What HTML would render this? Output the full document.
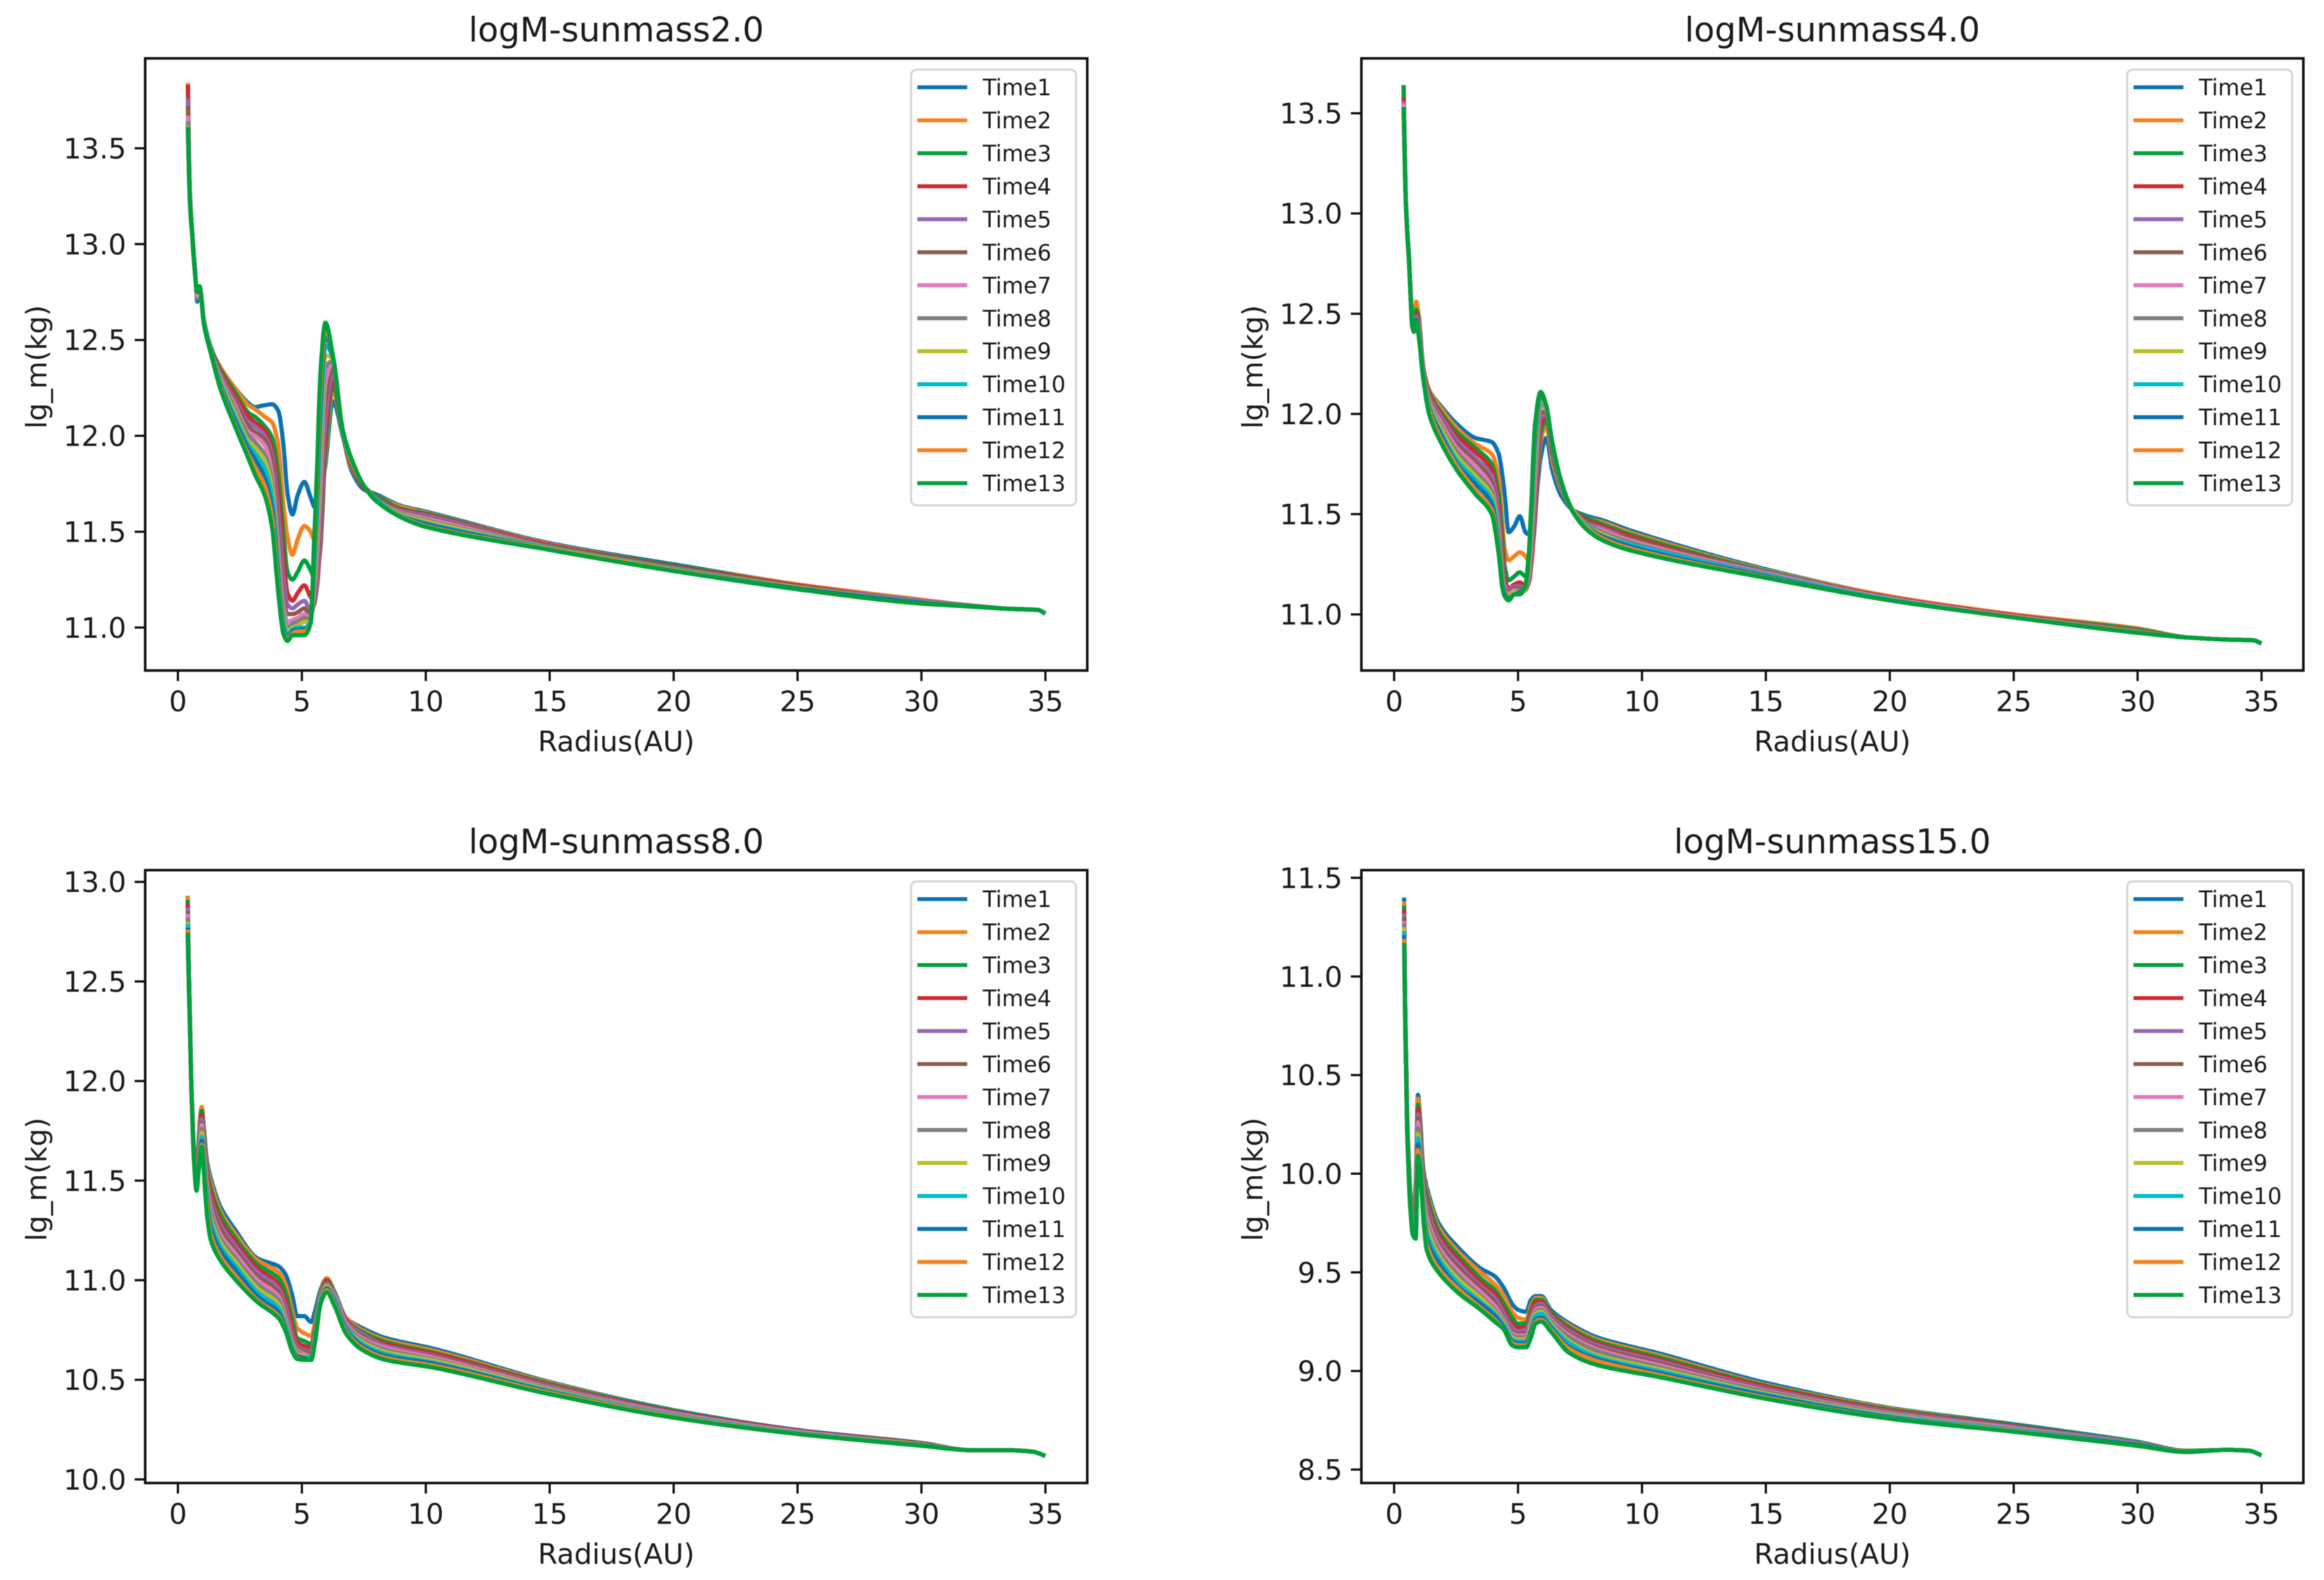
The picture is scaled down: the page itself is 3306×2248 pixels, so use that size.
<!DOCTYPE html>
<html lang="en">
<head>
<meta charset="utf-8">
<title>logM-sunmass panels</title>
<style>
html,body{margin:0;padding:0;background:#fff;}
body{width:3306px;height:2248px;overflow:hidden;}
svg{display:block;filter:blur(0.6px);}
text{font-family:"DejaVu Sans","Liberation Sans",sans-serif;fill:#1a1a1a;}
.title{font-size:48px;text-anchor:middle;}
.axis-label{font-size:40.2px;text-anchor:middle;}
</style>
</head>
<body>
<svg id="figure" xmlns="http://www.w3.org/2000/svg" width="3306" height="2248" viewBox="0 0 3306 2248">
  <rect x="0" y="0" width="3306" height="2248" fill="#ffffff"/>
  <g id="panel1">
    <text class="title" x="876.6" y="59">logM-sunmass2.0</text>
    <text class="axis-label" x="876.6" y="1069">Radius(AU)</text>
    <text class="axis-label" x="66" y="522" transform="rotate(-90 66 522)">lg_m(kg)</text>
  </g>
  <g id="panel2">
    <text class="title" x="2606.6" y="59">logM-sunmass4.0</text>
    <text class="axis-label" x="2606.6" y="1069">Radius(AU)</text>
    <text class="axis-label" x="1796" y="522" transform="rotate(-90 1796 522)">lg_m(kg)</text>
  </g>
  <g id="panel3">
    <text class="title" x="876.6" y="1214">logM-sunmass8.0</text>
    <text class="axis-label" x="876.6" y="2225">Radius(AU)</text>
    <text class="axis-label" x="66" y="1678" transform="rotate(-90 66 1678)">lg_m(kg)</text>
  </g>
  <g id="panel4">
    <text class="title" x="2606.6" y="1214">logM-sunmass15.0</text>
    <text class="axis-label" x="2606.6" y="2225">Radius(AU)</text>
    <text class="axis-label" x="1796" y="1678" transform="rotate(-90 1796 1678)">lg_m(kg)</text>
  </g>
</svg>
<script>
const seriesNames = ['Time1','Time2','Time3','Time4','Time5','Time6','Time7','Time8','Time9','Time10','Time11','Time12','Time13'];
const xTickValues = [0,5,10,15,20,25,30,35];
const xTickLabels = ['0','5','10','15','20','25','30','35'];
const yTicksA = [11.0,11.5,12.0,12.5,13.0,13.5];
const yTicksB = [11.0,11.5,12.0,12.5,13.0,13.5];
const yTicksC = [10.0,10.5,11.0,11.5,12.0,12.5,13.0];
const yTicksD = [8.5,9.0,9.5,10.0,10.5,11.0,11.5];

/* Panel 1: logM-sunmass2.0 */
const radiusA = [0.40,0.48,0.57,0.70,0.78,0.87,1.05,1.33,1.70,2.30,2.85,3.10,3.50,3.80,4.05,4.25,4.42,4.62,4.83,5.10,5.35,5.50,5.60,5.75,5.95,6.25,6.65,7.00,7.50,8.00,9.00,10,15,20,25,30,32,33.5,34.7,35];
const a1 = [13.84,13.28,13.08,12.84,12.70,12.78,12.60,12.46,12.36,12.25,12.17,12.15,12.16,12.165,12.13,11.96,11.70,11.59,11.69,11.76,11.68,11.63,11.62,11.70,11.85,12.18,12.00,11.82,11.72,11.695,11.635,11.605,11.44,11.33,11.225,11.145,11.115,11.098,11.092,11.073];
const a2 = [13.84,13.28,13.08,12.84,12.71,12.78,12.60,12.46,12.36,12.25,12.16,12.14,12.10,12.07,11.95,11.65,11.47,11.38,11.46,11.53,11.50,11.46,11.46,11.55,11.88,12.24,12.00,11.84,11.73,11.69,11.63,11.60,11.435,11.325,11.225,11.145,11.115,11.098,11.092,11.073];
const a3 = [13.83,13.27,13.08,12.84,12.71,12.78,12.60,12.46,12.35,12.23,12.12,12.10,12.05,11.99,11.80,11.50,11.29,11.25,11.29,11.35,11.30,11.26,11.28,11.42,11.92,12.27,12.00,11.85,11.73,11.69,11.62,11.595,11.43,11.325,11.22,11.14,11.115,11.098,11.092,11.073];
const a4 = [13.83,13.27,13.07,12.84,12.72,12.78,12.60,12.45,12.34,12.21,12.10,12.07,12.03,11.93,11.70,11.38,11.18,11.14,11.18,11.22,11.16,11.14,11.20,11.45,12.00,12.30,12.01,11.85,11.73,11.68,11.615,11.59,11.43,11.32,11.22,11.14,11.115,11.098,11.092,11.073];
const a5 = [13.76,13.26,13.07,12.84,12.72,12.78,12.59,12.45,12.33,12.19,12.07,12.05,12.00,11.90,11.60,11.27,11.12,11.10,11.12,11.14,11.09,11.12,11.20,11.50,12.08,12.33,12.01,11.86,11.74,11.68,11.61,11.585,11.425,11.315,11.215,11.14,11.115,11.098,11.092,11.073];
const a6 = [13.72,13.26,13.07,12.84,12.73,12.78,12.59,12.45,12.32,12.18,12.05,12.02,11.98,11.87,11.50,11.18,11.07,11.07,11.08,11.10,11.06,11.14,11.26,11.60,12.18,12.36,12.01,11.86,11.74,11.68,11.605,11.575,11.425,11.315,11.215,11.135,11.115,11.098,11.092,11.073];
const a7 = [13.67,13.25,13.06,12.84,12.73,12.78,12.59,12.44,12.31,12.16,12.02,12.00,11.95,11.80,11.42,11.12,11.03,11.04,11.05,11.07,11.05,11.18,11.34,11.72,12.28,12.38,12.02,11.87,11.74,11.67,11.60,11.57,11.42,11.31,11.21,11.135,11.115,11.098,11.092,11.073];
const a8 = [13.64,13.25,13.06,12.83,12.74,12.78,12.59,12.44,12.30,12.14,12.00,11.97,11.90,11.76,11.37,11.08,11.00,11.02,11.03,11.05,11.04,11.22,11.42,11.85,12.36,12.39,12.02,11.87,11.74,11.67,11.595,11.56,11.42,11.31,11.21,11.135,11.115,11.098,11.092,11.073];
const a9 = [13.63,13.24,13.06,12.83,12.74,12.78,12.59,12.44,12.29,12.12,11.97,11.94,11.87,11.72,11.33,11.05,10.98,11.00,11.01,11.03,11.03,11.26,11.48,11.95,12.42,12.40,12.02,11.87,11.74,11.67,11.59,11.555,11.415,11.305,11.21,11.13,11.11,11.098,11.092,11.073];
const a10 = [13.63,13.24,13.06,12.83,12.75,12.78,12.59,12.44,12.28,12.10,11.95,11.91,11.83,11.68,11.30,11.03,10.96,10.99,11.00,11.00,11.03,11.30,11.56,12.05,12.47,12.41,12.02,11.88,11.74,11.67,11.585,11.545,11.415,11.305,11.205,11.13,11.11,11.098,11.092,11.073];
const a11 = [13.62,13.23,13.05,12.83,12.75,12.78,12.58,12.43,12.27,12.08,11.93,11.88,11.78,11.62,11.26,11.00,10.95,10.98,10.99,10.99,11.02,11.36,11.64,12.15,12.52,12.41,12.03,11.88,11.74,11.66,11.58,11.54,11.41,11.30,11.205,11.13,11.11,11.098,11.092,11.073];
const a12 = [13.62,13.23,13.05,12.83,12.76,12.78,12.58,12.43,12.26,12.06,11.90,11.84,11.74,11.57,11.22,10.98,10.94,10.97,10.98,10.98,11.02,11.42,11.72,12.25,12.56,12.42,12.03,11.88,11.74,11.66,11.58,11.53,11.41,11.30,11.20,11.125,11.11,11.098,11.092,11.073];
const a13 = [13.61,13.22,13.05,12.83,12.76,12.78,12.58,12.43,12.25,12.05,11.88,11.80,11.69,11.52,11.18,10.97,10.93,10.96,10.96,10.96,11.02,11.47,11.79,12.33,12.59,12.42,12.03,11.88,11.74,11.66,11.575,11.525,11.405,11.295,11.20,11.125,11.11,11.098,11.092,11.073];

/* Panel 2: logM-sunmass4.0 */
const radiusB = [0.38,0.47,0.61,0.73,0.80,0.89,0.98,1.17,1.41,1.88,2.53,3.28,3.94,4.22,4.36,4.46,4.62,4.85,5.07,5.30,5.42,5.53,5.68,5.91,6.14,6.38,6.75,7.22,7.80,8.40,9.50,15,20,25,30,32,33.5,34.7,35];
const b1 = [13.64,13.08,12.76,12.47,12.41,12.53,12.50,12.24,12.12,12.04,11.95,11.88,11.86,11.80,11.70,11.60,11.41,11.44,11.49,11.41,11.40,11.44,11.52,11.78,11.88,11.72,11.59,11.52,11.49,11.47,11.42,11.225,11.09,11.00,10.93,10.885,10.875,10.87,10.855];
const b2 = [13.64,13.08,12.76,12.47,12.41,12.56,12.50,12.24,12.12,12.03,11.93,11.85,11.80,11.68,11.47,11.33,11.27,11.29,11.31,11.29,11.27,11.30,11.48,11.86,11.94,11.77,11.62,11.52,11.48,11.46,11.41,11.22,11.09,11.00,10.93,10.885,10.875,10.87,10.855];
const b3 = [13.64,13.08,12.76,12.47,12.41,12.52,12.48,12.23,12.11,12.01,11.91,11.83,11.75,11.60,11.40,11.24,11.17,11.19,11.21,11.19,11.19,11.26,11.46,11.90,11.97,11.80,11.63,11.52,11.48,11.45,11.40,11.215,11.085,10.995,10.925,10.885,10.875,10.87,10.855];
const b4 = [13.58,13.07,12.75,12.46,12.41,12.50,12.47,12.23,12.10,12.00,11.89,11.81,11.72,11.54,11.33,11.18,11.13,11.15,11.16,11.14,11.15,11.24,11.48,11.94,11.99,11.81,11.64,11.52,11.47,11.44,11.39,11.21,11.085,10.995,10.92,10.885,10.875,10.87,10.855];
const b5 = [13.56,13.07,12.75,12.46,12.41,12.49,12.46,12.22,12.09,11.99,11.87,11.78,11.69,11.50,11.27,11.15,11.12,11.14,11.14,11.13,11.15,11.26,11.54,11.98,12.00,11.82,11.64,11.52,11.46,11.43,11.38,11.21,11.08,10.99,10.92,10.885,10.875,10.87,10.855];
const b6 = [13.55,13.07,12.75,12.46,12.41,12.49,12.45,12.21,12.08,11.97,11.85,11.76,11.66,11.46,11.23,11.13,11.11,11.13,11.13,11.12,11.16,11.30,11.60,12.01,12.01,11.83,11.65,11.52,11.46,11.42,11.38,11.205,11.08,10.99,10.92,10.885,10.875,10.87,10.855];
const b7 = [13.55,13.06,12.74,12.45,12.41,12.48,12.44,12.21,12.07,11.96,11.83,11.74,11.63,11.42,11.20,11.12,11.10,11.12,11.12,11.12,11.18,11.34,11.66,12.04,12.02,11.84,11.65,11.52,11.45,11.42,11.37,11.205,11.08,10.99,10.915,10.885,10.875,10.87,10.855];
const b8 = [13.54,13.06,12.74,12.45,12.41,12.48,12.43,12.20,12.06,11.94,11.81,11.71,11.61,11.40,11.18,11.11,11.09,11.11,11.12,11.12,11.20,11.38,11.72,12.06,12.03,11.84,11.65,11.52,11.45,11.41,11.36,11.20,11.075,10.985,10.915,10.885,10.875,10.87,10.855];
const b9 = [13.54,13.06,12.74,12.45,12.41,12.47,12.43,12.20,12.05,11.93,11.79,11.69,11.59,11.38,11.17,11.10,11.09,11.11,11.11,11.12,11.22,11.42,11.78,12.08,12.03,11.85,11.66,11.52,11.44,11.40,11.35,11.195,11.075,10.985,10.91,10.885,10.875,10.87,10.855];
const b10 = [13.53,13.06,12.74,12.45,12.41,12.47,12.42,12.19,12.04,11.91,11.77,11.67,11.57,11.36,11.16,11.10,11.08,11.10,11.11,11.13,11.24,11.46,11.83,12.09,12.04,11.85,11.66,11.51,11.44,11.39,11.35,11.195,11.075,10.985,10.91,10.885,10.875,10.87,10.855];
const b11 = [13.53,13.05,12.73,12.44,12.41,12.47,12.42,12.19,12.03,11.90,11.75,11.65,11.55,11.34,11.15,11.10,11.08,11.10,11.11,11.13,11.25,11.49,11.87,12.10,12.04,11.85,11.66,11.51,11.43,11.39,11.34,11.19,11.07,10.985,10.91,10.885,10.875,10.87,10.855];
const b12 = [13.52,13.05,12.73,12.44,12.41,12.46,12.41,12.18,12.02,11.88,11.74,11.62,11.52,11.32,11.14,11.09,11.07,11.10,11.10,11.14,11.26,11.52,11.91,12.11,12.04,11.86,11.66,11.51,11.43,11.38,11.33,11.185,11.07,10.985,10.91,10.885,10.875,10.87,10.855];
const b13 = [13.52,13.05,12.73,12.44,12.41,12.46,12.40,12.18,12.00,11.86,11.72,11.60,11.50,11.30,11.14,11.09,11.07,11.10,11.10,11.15,11.28,11.54,11.94,12.11,12.04,11.86,11.66,11.51,11.42,11.37,11.32,11.182,11.07,10.985,10.908,10.885,10.875,10.87,10.855];

/* Panel 3: logM-sunmass8.0 */
const radiusC = [0.39,0.44,0.54,0.66,0.75,0.85,0.96,1.05,1.17,1.33,1.71,2.27,3.21,4.06,4.34,4.62,4.81,5.09,5.38,5.52,5.75,6.00,6.32,6.79,7.44,8.38,10.36,15,20,25,30,32,33.5,34.5,35];
const c1 = [12.93,12.60,12.00,11.62,11.48,11.74,11.87,11.76,11.60,11.51,11.37,11.26,11.11,11.07,11.03,10.92,10.82,10.82,10.79,10.84,10.95,11.01,10.94,10.81,10.76,10.71,10.655,10.489,10.348,10.248,10.183,10.147,10.147,10.139,10.118];
const c2 = [12.93,12.59,12.00,11.62,11.48,11.72,11.87,11.75,11.58,11.49,11.35,11.24,11.10,11.04,10.98,10.84,10.76,10.735,10.72,10.78,10.93,11.01,10.94,10.81,10.75,10.70,10.645,10.485,10.345,10.245,10.18,10.147,10.147,10.139,10.118];
const c3 = [12.91,12.58,11.99,11.61,11.47,11.70,11.85,11.73,11.56,11.46,11.33,11.22,11.08,11.01,10.94,10.80,10.71,10.695,10.68,10.75,10.92,11.00,10.94,10.80,10.74,10.69,10.635,10.48,10.345,10.245,10.18,10.147,10.147,10.139,10.118];
const c4 = [12.89,12.57,11.99,11.61,11.47,11.68,11.83,11.71,11.54,11.44,11.30,11.20,11.06,10.98,10.90,10.76,10.69,10.67,10.66,10.73,10.91,11.00,10.93,10.80,10.73,10.68,10.63,10.475,10.34,10.245,10.18,10.147,10.147,10.139,10.118];
const c5 = [12.87,12.56,11.99,11.60,11.47,11.66,11.81,11.69,11.52,11.41,11.28,11.18,11.04,10.96,10.87,10.73,10.67,10.65,10.64,10.72,10.91,10.99,10.93,10.79,10.73,10.67,10.62,10.47,10.335,10.24,10.178,10.147,10.147,10.139,10.118];
const c6 = [12.85,12.55,11.98,11.60,11.46,11.64,11.79,11.67,11.50,11.39,11.26,11.16,11.02,10.94,10.84,10.71,10.66,10.64,10.63,10.71,10.90,10.99,10.92,10.78,10.72,10.66,10.615,10.465,10.33,10.24,10.178,10.147,10.147,10.139,10.118];
const c7 = [12.84,12.54,11.98,11.59,11.46,11.62,11.78,11.65,11.48,11.36,11.23,11.14,11.00,10.92,10.82,10.69,10.65,10.63,10.62,10.71,10.90,10.98,10.92,10.78,10.71,10.66,10.61,10.46,10.33,10.24,10.175,10.147,10.147,10.139,10.118];
const c8 = [12.82,12.53,11.98,11.59,11.46,11.60,11.76,11.63,11.46,11.34,11.21,11.12,10.98,10.90,10.80,10.68,10.64,10.62,10.62,10.70,10.89,10.98,10.91,10.77,10.70,10.65,10.60,10.455,10.325,10.235,10.175,10.147,10.147,10.139,10.118];
const c9 = [12.80,12.52,11.98,11.58,11.46,11.59,11.74,11.61,11.44,11.31,11.19,11.10,10.96,10.88,10.78,10.67,10.63,10.62,10.61,10.70,10.89,10.97,10.90,10.76,10.69,10.64,10.595,10.45,10.32,10.235,10.175,10.147,10.147,10.139,10.118];
const c10 = [12.79,12.51,11.97,11.58,11.46,11.58,11.72,11.59,11.42,11.29,11.17,11.08,10.94,10.86,10.77,10.66,10.62,10.61,10.61,10.69,10.89,10.96,10.90,10.76,10.68,10.63,10.585,10.445,10.32,10.235,10.172,10.147,10.147,10.139,10.118];
const c11 = [12.77,12.50,11.97,11.58,11.45,11.58,11.70,11.57,11.40,11.26,11.15,11.06,10.92,10.84,10.76,10.65,10.62,10.61,10.60,10.69,10.88,10.96,10.89,10.75,10.67,10.62,10.58,10.44,10.315,10.23,10.172,10.147,10.147,10.139,10.118];
const c12 = [12.76,12.49,11.97,11.57,11.45,11.57,11.68,11.55,11.37,11.23,11.12,11.03,10.90,10.82,10.75,10.645,10.61,10.60,10.60,10.68,10.88,10.95,10.88,10.74,10.66,10.61,10.57,10.435,10.315,10.23,10.17,10.147,10.147,10.139,10.118];
const c13 = [12.745,12.48,11.97,11.57,11.45,11.57,11.67,11.53,11.33,11.20,11.10,11.01,10.89,10.81,10.745,10.64,10.605,10.60,10.60,10.68,10.88,10.94,10.87,10.73,10.65,10.60,10.56,10.428,10.31,10.228,10.169,10.147,10.147,10.139,10.118];

/* Panel 4: logM-sunmass15.0 */
const radiusD = [0.40,0.45,0.52,0.66,0.75,0.87,0.96,1.04,1.18,1.32,1.79,2.55,3.49,4.06,4.43,4.76,5.00,5.33,5.52,5.71,5.94,6.32,7.08,8.20,10.66,15,20,25,30,32,33.5,34.5,35];
const d1 = [11.40,10.85,10.34,9.90,9.75,9.95,10.40,10.30,10.02,9.93,9.75,9.63,9.52,9.48,9.42,9.34,9.31,9.30,9.36,9.38,9.38,9.31,9.24,9.17,9.09,8.94,8.813,8.73,8.641,8.595,8.60,8.596,8.572];
const d2 = [11.38,10.84,10.33,9.89,9.75,9.90,10.38,10.28,10.00,9.91,9.73,9.61,9.50,9.44,9.38,9.30,9.27,9.26,9.33,9.37,9.37,9.30,9.23,9.16,9.08,8.93,8.81,8.725,8.64,8.595,8.60,8.596,8.572];
const d3 = [11.36,10.83,10.32,9.88,9.74,9.86,10.35,10.25,9.98,9.89,9.71,9.59,9.47,9.41,9.34,9.27,9.24,9.24,9.31,9.36,9.36,9.30,9.22,9.15,9.07,8.925,8.805,8.725,8.64,8.595,8.60,8.596,8.572];
const d4 = [11.34,10.82,10.31,9.87,9.74,9.82,10.33,10.22,9.96,9.86,9.69,9.57,9.45,9.39,9.31,9.24,9.22,9.22,9.30,9.35,9.35,9.29,9.21,9.14,9.06,8.92,8.80,8.72,8.635,8.592,8.60,8.596,8.572];
const d5 = [11.32,10.81,10.30,9.86,9.73,9.79,10.30,10.20,9.94,9.84,9.67,9.55,9.43,9.37,9.29,9.22,9.20,9.21,9.28,9.33,9.34,9.28,9.20,9.13,9.05,8.91,8.795,8.715,8.635,8.592,8.60,8.596,8.572];
const d6 = [11.30,10.80,10.29,9.86,9.73,9.76,10.28,10.17,9.92,9.81,9.65,9.53,9.42,9.35,9.27,9.20,9.19,9.19,9.27,9.32,9.33,9.27,9.19,9.12,9.04,8.905,8.79,8.71,8.63,8.592,8.60,8.596,8.572];
const d7 = [11.28,10.79,10.28,9.85,9.72,9.74,10.26,10.15,9.89,9.78,9.63,9.51,9.40,9.33,9.26,9.19,9.18,9.18,9.25,9.31,9.32,9.26,9.18,9.11,9.03,8.90,8.785,8.71,8.63,8.59,8.60,8.596,8.572];
const d8 = [11.27,10.78,10.28,9.84,9.72,9.72,10.23,10.13,9.87,9.75,9.61,9.49,9.38,9.31,9.25,9.18,9.17,9.17,9.24,9.30,9.31,9.25,9.17,9.10,9.02,8.895,8.78,8.705,8.63,8.59,8.60,8.596,8.572];
const d9 = [11.25,10.77,10.27,9.84,9.71,9.70,10.20,10.10,9.85,9.73,9.59,9.47,9.37,9.30,9.24,9.17,9.16,9.16,9.23,9.29,9.30,9.24,9.15,9.08,9.01,8.885,8.775,8.70,8.625,8.59,8.60,8.596,8.572];
const d10 = [11.23,10.76,10.26,9.83,9.71,9.69,10.18,10.08,9.83,9.70,9.57,9.45,9.35,9.29,9.23,9.16,9.15,9.15,9.21,9.28,9.29,9.23,9.14,9.07,9.00,8.88,8.77,8.70,8.625,8.589,8.60,8.596,8.572];
const d11 = [11.21,10.75,10.25,9.82,9.70,9.68,10.15,10.06,9.81,9.67,9.55,9.43,9.34,9.28,9.22,9.15,9.14,9.14,9.20,9.26,9.27,9.22,9.12,9.06,8.99,8.875,8.765,8.695,8.625,8.589,8.60,8.596,8.572];
const d12 = [11.19,10.75,10.25,9.82,9.70,9.68,10.12,10.04,9.79,9.64,9.52,9.42,9.32,9.26,9.21,9.14,9.13,9.13,9.18,9.25,9.26,9.21,9.11,9.05,8.98,8.865,8.76,8.695,8.62,8.589,8.60,8.596,8.572];
const d13 = [11.17,10.75,10.24,9.81,9.69,9.67,10.09,10.03,9.77,9.61,9.50,9.40,9.31,9.25,9.21,9.13,9.12,9.12,9.17,9.24,9.25,9.20,9.09,9.03,8.97,8.859,8.758,8.692,8.621,8.589,8.60,8.596,8.572];

const seriesA = [a1,a2,a3,a4,a5,a6,a7,a8,a9,a10,a11,a12,a13];
const seriesB = [b1,b2,b3,b4,b5,b6,b7,b8,b9,b10,b11,b12,b13];
const seriesC = [c1,c2,c3,c4,c5,c6,c7,c8,c9,c10,c11,c12,c13];
const seriesD = [d1,d2,d3,d4,d5,d6,d7,d8,d9,d10,d11,d12,d13];

const seriesColors = ['#0a72b0','#f5821f','#00a03c','#d2282e','#9467b5','#8c5a4e','#e27ab8','#7f7f7f','#bcbd2c','#00bccb','#0a72b0','#f5821f','#00a03c'];
const NS = 'http://www.w3.org/2000/svg';

function make(tag, attrs, parent, content) {
  const el = document.createElementNS(NS, tag);
  for (const k in attrs) el.setAttribute(k, attrs[k]);
  if (content !== undefined) el.textContent = content;
  parent.appendChild(el);
  return el;
}

/* Monotone cubic path through the data points, so spikes do not overshoot. */
function curvePath(pts) {
  const n = pts.length;
  const d = [], m = [];
  for (let i = 0; i < n - 1; i++) d.push((pts[i+1][1] - pts[i][1]) / (pts[i+1][0] - pts[i][0]));
  m.push(d[0]);
  for (let i = 1; i < n - 1; i++) m.push(d[i-1] * d[i] <= 0 ? 0 : 2 * d[i-1] * d[i] / (d[i-1] + d[i]));
  m.push(d[n-2]);
  let s = 'M' + pts[0][0].toFixed(2) + ' ' + pts[0][1].toFixed(2);
  for (let i = 0; i < n - 1; i++) {
    const h = (pts[i+1][0] - pts[i][0]) / 3;
    s += 'C' + (pts[i][0] + h).toFixed(2) + ' ' + (pts[i][1] + m[i] * h).toFixed(2) + ' ' +
         (pts[i+1][0] - h).toFixed(2) + ' ' + (pts[i+1][1] - m[i+1] * h).toFixed(2) + ' ' +
         pts[i+1][0].toFixed(2) + ' ' + pts[i+1][1].toFixed(2);
  }
  return s;
}

function drawPanel(groupId, radius, series, yTicks, box, xDomain, yDomain) {
  const g = document.getElementById(groupId);
  const xScale = v => box.left + (v - xDomain[0]) / (xDomain[1] - xDomain[0]) * (box.right - box.left);
  const yScale = v => box.bottom - (v - yDomain[0]) / (yDomain[1] - yDomain[0]) * (box.bottom - box.top);

  /* series lines */
  series.forEach((vals, i) => {
    const pts = radius.map((r, k) => [xScale(r), yScale(vals[k])]);
    const line = make('path', {d: curvePath(pts), fill: 'none', stroke: seriesColors[i], 'stroke-width': 6, 'stroke-linejoin': 'round', 'stroke-linecap': 'butt'}, g);
    
    
  });

  /* frame */
  const frame = make('rect', {x: box.left, y: box.top, width: box.right - box.left, height: box.bottom - box.top, fill: 'none', stroke: '#111', 'stroke-width': 3.6}, g);
  
  

  /* x ticks */
  xTickValues.forEach((v, i) => {
    const x = xScale(v);
    const tick = make('line', {x1: x, x2: x, y1: box.bottom, y2: box.bottom + 15, stroke: '#111', 'stroke-width': 3.2}, g);
    
    
    const label = make('text', {x: x, y: box.bottom + 58, 'font-size': 40.2, 'text-anchor': 'middle'}, g, xTickLabels[i]);
    
    
  });

  /* y ticks */
  yTicks.forEach(v => {
    const y = yScale(v);
    const tick = make('line', {x1: box.left - 15, x2: box.left, y1: y, y2: y, stroke: '#111', 'stroke-width': 3.2}, g);
    
    
    const label = make('text', {x: box.left - 27, y: y + 14.5, 'font-size': 40.2, 'text-anchor': 'end'}, g, v.toFixed(1));
    
    
  });

  /* legend */
  const legendLeft = box.right - 250.7;
  const legendTop = box.top + 16;
  const legend = make('g', {}, g);
  
  
  const legendBox = make('rect', {x: legendLeft, y: legendTop, width: 234.7, height: 620, rx: 8, ry: 8, fill: '#fff', stroke: '#d6d6d6', 'stroke-width': 3}, legend);
  
  
  seriesNames.forEach((name, i) => {
    const y = legendTop + 25.2 + i * 46.94;
    const swatch = make('line', {x1: legendLeft + 9, x2: legendLeft + 80, y1: y, y2: y, stroke: seriesColors[i], 'stroke-width': 5.6}, legend);
    
    
    const label = make('text', {x: legendLeft + 102, y: y + 11.5, 'font-size': 31.7}, legend, name);
    
    
  });
}

const xDomainAll = [-1.32, 36.69];
drawPanel('panel1', radiusA, seriesA, yTicksA, {left: 206.6, right: 1546.7, top: 83, bottom: 954}, xDomainAll, [10.776, 13.969]);
drawPanel('panel2', radiusB, seriesB, yTicksB, {left: 1936.7, right: 3276.7, top: 83, bottom: 954}, xDomainAll, [10.72, 13.774]);
drawPanel('panel3', radiusC, seriesC, yTicksC, {left: 206.6, right: 1546.7, top: 1238, bottom: 2110}, xDomainAll, [9.982, 13.059]);
drawPanel('panel4', radiusD, seriesD, yTicksD, {left: 1936.7, right: 3276.7, top: 1238, bottom: 2110}, xDomainAll, [8.432, 11.539]);
</script>
</body>
</html>
